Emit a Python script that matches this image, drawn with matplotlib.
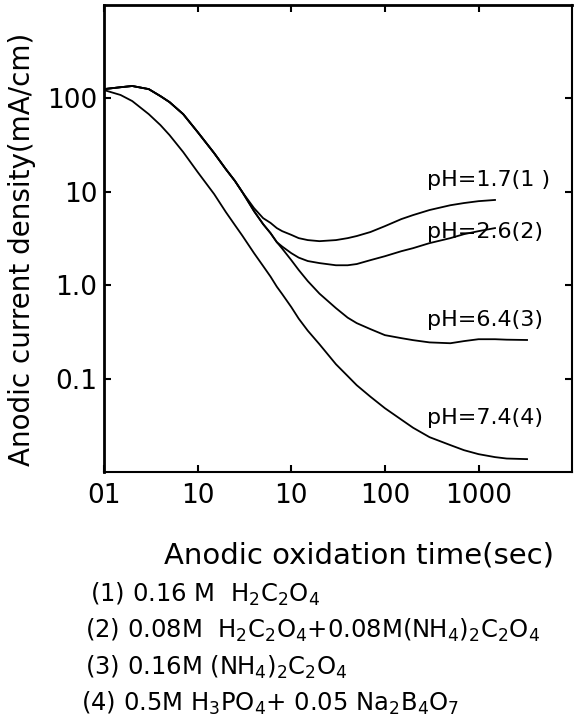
import numpy as np
import matplotlib
matplotlib.use("Agg")
import matplotlib.pyplot as plt

plt.rcParams['font.family'] = ['DejaVu Sans']
plt.rcParams['mathtext.default'] = 'regular'

# anodic oxidation time (sec)
time_s = [0.1, 0.15, 0.2, 0.3, 0.4, 0.5, 0.7, 1, 1.5, 2, 2.5, 3, 4, 5, 6, 7, 8,
          10, 12, 15, 20, 30, 40, 50, 70, 100, 150, 200, 300, 500, 700, 1000,
          1500, 2000, 3300]

# current density (mA/cm); None where the curve ends
ph17 = [126, 132, 136, 126, 106, 91.5, 68, 43.7, 26, 17.5, 13.1, 9.95, 6.7,
        5.24, 4.66, 4.1, 3.8, 3.47, 3.2, 3.05, 2.97, 3.05, 3.2, 3.37, 3.72,
        4.3, 5.12, 5.65, 6.4, 7.2, 7.6, 7.96, 8.2, None, None]
ph26 = [126, 132, 136, 126, 106, 91.5, 68, 43.7, 26, 17.5, 13.1, 9.95, 6.22,
        4.52, 3.62, 2.9, 2.6, 2.21, 1.98, 1.82, 1.73, 1.64, 1.64, 1.69, 1.86,
        2.05, 2.32, 2.5, 2.83, 3.2, 3.53, 3.8, 4.1, None, None]
ph64 = [126, 132, 136, 126, 106, 91.5, 68, 43.7, 26, 17.5, 13.1, 9.95, 6.22,
        4.52, 3.62, 2.9, 2.47, 1.86, 1.46, 1.11, 0.815, 0.57, 0.451, 0.394,
        0.34, 0.293, 0.272, 0.259, 0.245, 0.24, 0.253, 0.265, 0.265, 0.262, 0.26]
ph74 = [123, 109, 93.8, 68, 51.9, 40.6, 26.7, 16.3, 9.47, 6.08, 4.41, 3.4, 2.21,
        1.61, 1.24, 0.968, 0.805, 0.585, 0.44, 0.327, 0.234, 0.143, 0.107,
        0.0853, 0.0643, 0.0484, 0.0365, 0.0299, 0.0237, 0.0195, 0.0172, 0.0156,
        0.0145, 0.0140, 0.0138]

curve_labels = ["pH=1.7(1 )", "pH=2.6(2)", "pH=6.4(3)", "pH=7.4(4)"]
label_y = [0.625, 0.514, 0.325, 0.116]

x_ticks = [0.1, 1, 10, 100, 1000]
x_ticklabels = ["01", "10", "10", "100", "1000"]
y_ticks = [0.1, 1, 10, 100]
y_ticklabels = ["0.1", "1.0", "10", "100"]

solutions = [
    "(1) 0.16 M  H$_2$C$_2$O$_4$",
    "(2) 0.08M  H$_2$C$_2$O$_4$+0.08M(NH$_4$)$_2$C$_2$O$_4$",
    "(3) 0.16M (NH$_4$)$_2$C$_2$O$_4$",
    "(4) 0.5M H$_3$PO$_4$+ 0.05 Na$_2$B$_4$O$_7$",
]

fig = plt.figure(figsize=(5.75, 7.22), dpi=100)
ax = fig.add_axes([0.181, 0.346, 0.814, 0.647])

t = np.array(time_s, dtype=float)
for series in [ph17, ph26, ph64, ph74]:
    v = np.array([np.nan if s is None else s for s in series], dtype=float)
    ax.plot(t, v, color='black', lw=1.3, solid_joinstyle='round')

ax.set_xscale('log')
ax.set_yscale('log')
ax.set_xlim(0.1, 10000)
ax.set_ylim(0.01, 1000)
ax.minorticks_off()
ax.set_xticks(x_ticks)
ax.set_xticklabels(x_ticklabels)
ax.set_yticks(y_ticks)
ax.set_yticklabels(y_ticklabels)
ax.tick_params(direction='in', length=5, width=1.5, labelsize=19,
               top=True, right=True)
ax.tick_params(axis='x', pad=8)
ax.tick_params(axis='y', pad=5)
for side in ['left', 'top']:
    ax.spines[side].set_linewidth(2.0)
for side in ['right', 'bottom']:
    ax.spines[side].set_linewidth(1.5)

for lab, yy in zip(curve_labels, label_y):
    ax.text(0.69, yy, lab, transform=ax.transAxes, fontsize=16, va='center')

fig.text(0.038, 0.655, "Anodic current density(mA/cm)", rotation=90,
         fontsize=20, ha='center', va='center')
fig.text(0.625, 0.231, "Anodic oxidation time(sec)", fontsize=21,
         ha='center', va='center')

left_x = [90, 85, 85, 81]
rows_y = [594, 630, 667, 703]
for s, lx, ry in zip(solutions, left_x, rows_y):
    fig.text(lx / 575, 1 - ry / 722, s, fontsize=17.5, ha='left', va='center')

fig.savefig("out.png", dpi=100)
